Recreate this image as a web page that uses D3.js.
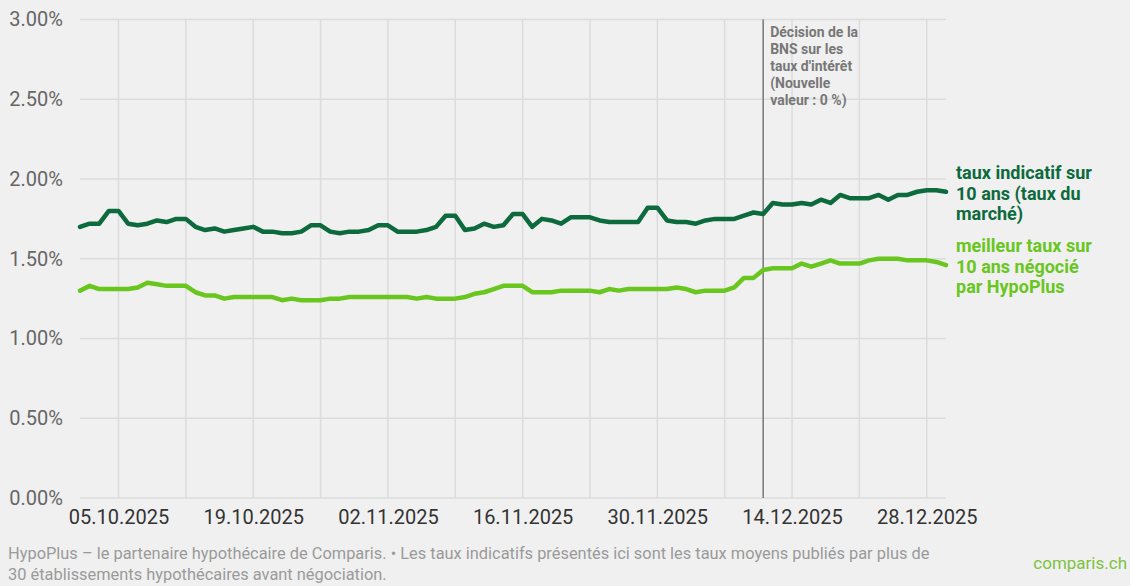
<!DOCTYPE html>
<html>
<head>
<meta charset="utf-8">
<script src="https://cdn.jsdelivr.net/npm/d3@7"></script>
<style>
  html, body { margin: 0; padding: 0; background: #f0f0f0; }
  svg { display: block; font-family: Roboto, "Noto Sans", sans-serif; }
</style>
</head>
<body>
<svg id="chart" width="1130" height="586"></svg>
<script>
// daily values, 01.10.2025 -> 30.12.2025
const startDate = '2025-10-01';
const endDate = '2025-12-30';

const marketRate = [
  1.70, 1.72, 1.72, 1.80, 1.80, 1.72, 1.71, 1.72, 1.74, 1.73,
  1.75, 1.75, 1.70, 1.68, 1.69, 1.67, 1.68, 1.69, 1.70, 1.67,
  1.67, 1.66, 1.66, 1.67, 1.71, 1.71, 1.67, 1.66, 1.67, 1.67,
  1.68, 1.71, 1.71, 1.67, 1.67, 1.67, 1.68, 1.70, 1.77, 1.77,
  1.68, 1.69, 1.72, 1.70, 1.71, 1.78, 1.78, 1.70, 1.75, 1.74,
  1.72, 1.76, 1.76, 1.76, 1.74, 1.73, 1.73, 1.73, 1.73, 1.82,
  1.82, 1.74, 1.73, 1.73, 1.72, 1.74, 1.75, 1.75, 1.75, 1.77,
  1.79, 1.78, 1.85, 1.84, 1.84, 1.85, 1.84, 1.87, 1.85, 1.90,
  1.88, 1.88, 1.88, 1.90, 1.87, 1.90, 1.90, 1.92, 1.93, 1.93,
  1.92
];

const bestRate = [
  1.30, 1.33, 1.31, 1.31, 1.31, 1.31, 1.32, 1.35, 1.34, 1.33,
  1.33, 1.33, 1.29, 1.27, 1.27, 1.25, 1.26, 1.26, 1.26, 1.26,
  1.26, 1.24, 1.25, 1.24, 1.24, 1.24, 1.25, 1.25, 1.26, 1.26,
  1.26, 1.26, 1.26, 1.26, 1.26, 1.25, 1.26, 1.25, 1.25, 1.25,
  1.26, 1.28, 1.29, 1.31, 1.33, 1.33, 1.33, 1.29, 1.29, 1.29,
  1.30, 1.30, 1.30, 1.30, 1.29, 1.31, 1.30, 1.31, 1.31, 1.31,
  1.31, 1.31, 1.32, 1.31, 1.29, 1.30, 1.30, 1.30, 1.32, 1.38,
  1.38, 1.43, 1.44, 1.44, 1.44, 1.47, 1.45, 1.47, 1.49, 1.47,
  1.47, 1.47, 1.49, 1.50, 1.50, 1.50, 1.49, 1.49, 1.49, 1.48,
  1.46
];

const yTicks = [0, 0.5, 1, 1.5, 2, 2.5, 3];

const marketLabel = ['taux indicatif sur', '10 ans (taux du', 'marché)'];
const bestLabel = ['meilleur taux sur', '10 ans négocié', 'par HypoPlus'];

const eventDate = '2025-12-11';
const eventLabel = ['Décision de la', 'BNS sur les', 'taux d\'intérêt', '(Nouvelle', 'valeur : 0 %)'];

const footnote = [
  'HypoPlus – le partenaire hypothécaire de Comparis. • Les taux indicatifs présentés ici sont les taux moyens publiés par plus de',
  '30 établissements hypothécaires avant négociation.'
];

const colors = { market: '#0d6a3d', best: '#69c61e', grid: '#dcdcdc', event: '#777777' };

const parse = d3.timeParse('%Y-%m-%d');
const dates = d3.timeDay.range(parse(startDate), d3.timeDay.offset(parse(endDate), 1));

const svg = d3.select('#chart');

const x = d3.scaleTime()
  .domain([parse(startDate), parse(endDate)])
  .range([80, 946]);
const y = d3.scaleLinear()
  .domain([0, 3])
  .range([498, 19.5]);

// horizontal grid
svg.append('g')
  .attr('class', 'grid-y')
  .selectAll('line')
  .data(yTicks)
  .join('line')
  .attr('x1', x.range()[0])
  .attr('x2', x.range()[1])
  .attr('y1', d => y(d))
  .attr('y2', d => y(d))
  .attr('stroke', colors.grid)
  .attr('stroke-width', 1.5);

// vertical grid, one per week
const weeks = d3.timeWeek.range(parse(startDate), parse(endDate));
svg.append('g')
  .attr('class', 'grid-x')
  .selectAll('line')
  .data(weeks)
  .join('line')
  .attr('x1', d => x(d))
  .attr('x2', d => x(d))
  .attr('y1', y(3))
  .attr('y2', y(0))
  .attr('stroke', colors.grid)
  .attr('stroke-width', 1.5);

// y axis labels
const yAxis = svg.append('g')
  .attr('class', 'axis-y')
  .attr('transform', 'translate(63, 0)')
  .call(d3.axisLeft(y).tickValues(yTicks).tickSize(0).tickPadding(0)
    .tickFormat(d => `${d.toFixed(2)}%`));
yAxis.select('.domain').remove();
yAxis.selectAll('text')
  .attr('font-family', 'Roboto, sans-serif')
  .attr('font-size', 20)
  .attr('fill', '#666');

// x axis labels, every second week
const xAxis = svg.append('g')
  .attr('class', 'axis-x')
  .attr('transform', `translate(0, ${y(0)})`)
  .call(d3.axisBottom(x).tickValues(weeks.filter((d, i) => i % 2 === 0))
    .tickSize(0).tickPadding(12).tickFormat(d3.timeFormat('%d.%m.%Y')));
xAxis.select('.domain').remove();
xAxis.selectAll('text')
  .attr('font-family', 'Roboto, sans-serif')
  .attr('font-size', 20)
  .attr('fill', '#333');

// event marker
const ex = x(parse(eventDate));
svg.append('line')
  .attr('x1', ex)
  .attr('x2', ex)
  .attr('y1', y(3))
  .attr('y2', y(0))
  .attr('stroke', colors.event)
  .attr('stroke-width', 1.5);

svg.append('text')
  .attr('x', ex + 7)
  .attr('y', 37)
  .attr('font-size', 14)
  .attr('font-weight', 'bold')
  .attr('fill', colors.event)
  .selectAll('tspan')
  .data(eventLabel)
  .join('tspan')
  .attr('x', ex + 7)
  .attr('dy', (d, i) => (i === 0 ? 0 : 17))
  .text(d => d);

// lines
const line = d3.line()
  .x((d, i) => x(dates[i]))
  .y(d => y(d));

const series = [
  { values: bestRate, color: colors.best },
  { values: marketRate, color: colors.market },
];

svg.append('g')
  .attr('class', 'lines')
  .selectAll('path')
  .data(series)
  .join('path')
  .attr('d', d => line(d.values))
  .attr('fill', 'none')
  .attr('stroke', d => d.color)
  .attr('stroke-width', 4.5)
  .attr('stroke-linejoin', 'round')
  .attr('stroke-linecap', 'round');

// direct labels
function seriesLabel(lines, top, color) {
  svg.append('text')
    .attr('y', top)
    .attr('font-size', 18)
    .attr('font-weight', 'bold')
    .attr('fill', color)
    .selectAll('tspan')
    .data(lines)
    .join('tspan')
    .attr('x', 956)
    .attr('dy', (d, i) => (i === 0 ? 0 : 20.5))
    .text(d => d);
}
seriesLabel(marketLabel, 179, colors.market);
seriesLabel(bestLabel, 252, colors.best);

// footnote
svg.append('text')
  .attr('y', 559)
  .attr('font-size', 16.4)
  .attr('fill', '#9a9a9a')
  .selectAll('tspan')
  .data(footnote)
  .join('tspan')
  .attr('x', 8)
  .attr('dy', (d, i) => (i === 0 ? 0 : 21))
  .text(d => d);

svg.append('text')
  .attr('x', 1127)
  .attr('y', 569)
  .attr('text-anchor', 'end')
  .attr('font-size', 17)
  .attr('fill', '#7dc241')
  .text('comparis.ch');
</script>
</body>
</html>
